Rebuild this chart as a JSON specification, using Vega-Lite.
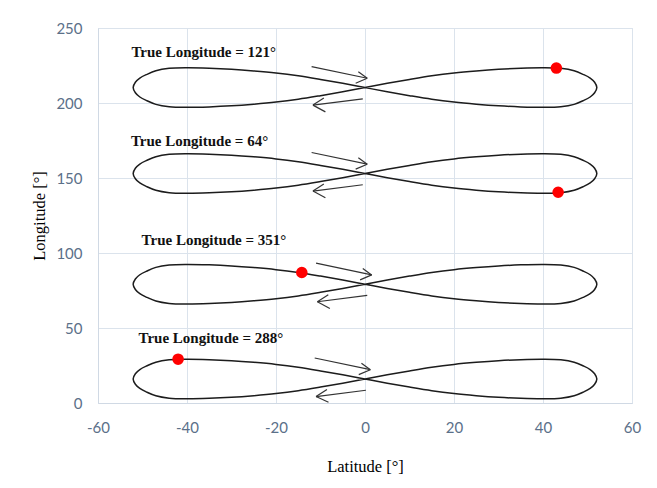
{
  "$schema": "https://vega.github.io/schema/vega-lite/v6.json",
  "width": 534,
  "height": 375,
  "autosize": {"type": "none"},
  "padding": {"left": 98, "top": 28, "right": 25, "bottom": 85},
  "background": "white",
  "config": {
    "view": {"stroke": "#d8e0ea", "strokeWidth": 1},
    "axis": {
      "grid": true,
      "gridColor": "#dbe3ec",
      "gridWidth": 1,
      "ticks": false,
      "tickSize": 0,
      "labelFlush": false,
      "labelOverlap": false,
      "domainColor": "#d0d9e4",
      "labelColor": "#5b7089",
      "labelFont": "Lato",
      "labelFontSize": 15,
      "titleFont": "Liberation Serif",
      "titleFontSize": 16.5,
      "titleFontWeight": "normal",
      "titleColor": "#000000"
    }
  },
  "datasets": {
    "track": [
      {"s":"A","o":0,"la":0,"lo":210.3},
      {"s":"A","o":1,"la":5,"lo":213.1},{"s":"A","o":2,"la":10,"lo":215.7},{"s":"A","o":3,"la":15,"lo":218.1},{"s":"A","o":4,"la":20,"lo":220.0},{"s":"A","o":5,"la":25,"lo":221.4},{"s":"A","o":6,"la":30,"lo":222.5},{"s":"A","o":7,"la":35,"lo":223.2},{"s":"A","o":8,"la":40,"lo":223.5},{"s":"A","o":9,"la":44,"lo":223.1},{"s":"A","o":10,"la":47,"lo":221.5},{"s":"A","o":11,"la":49,"lo":219.1},{"s":"A","o":12,"la":50.6,"lo":216.6},{"s":"A","o":13,"la":51.6,"lo":213.8},{"s":"A","o":14,"la":52.1,"lo":210.3},
      {"s":"A","o":15,"la":51.6,"lo":206.8},{"s":"A","o":16,"la":50.6,"lo":204.0},{"s":"A","o":17,"la":49,"lo":201.5},{"s":"A","o":18,"la":47,"lo":199.1},{"s":"A","o":19,"la":44,"lo":197.5},{"s":"A","o":20,"la":40,"lo":197.1},{"s":"A","o":21,"la":35,"lo":197.4},{"s":"A","o":22,"la":30,"lo":198.1},{"s":"A","o":23,"la":25,"lo":199.2},{"s":"A","o":24,"la":20,"lo":200.6},{"s":"A","o":25,"la":15,"lo":202.5},{"s":"A","o":26,"la":10,"lo":204.9},{"s":"A","o":27,"la":5,"lo":207.5},{"s":"A","o":28,"la":0,"lo":210.3},
      {"s":"A","o":29,"la":-5,"lo":213.1},{"s":"A","o":30,"la":-10,"lo":215.7},{"s":"A","o":31,"la":-15,"lo":218.1},{"s":"A","o":32,"la":-20,"lo":220.0},{"s":"A","o":33,"la":-25,"lo":221.4},{"s":"A","o":34,"la":-30,"lo":222.5},{"s":"A","o":35,"la":-35,"lo":223.2},{"s":"A","o":36,"la":-40,"lo":223.5},{"s":"A","o":37,"la":-44,"lo":223.1},{"s":"A","o":38,"la":-47,"lo":221.5},{"s":"A","o":39,"la":-49,"lo":219.1},{"s":"A","o":40,"la":-50.6,"lo":216.6},{"s":"A","o":41,"la":-51.6,"lo":213.8},{"s":"A","o":42,"la":-52.1,"lo":210.3},
      {"s":"A","o":43,"la":-51.6,"lo":206.8},{"s":"A","o":44,"la":-50.6,"lo":204.0},{"s":"A","o":45,"la":-49,"lo":201.5},{"s":"A","o":46,"la":-47,"lo":199.1},{"s":"A","o":47,"la":-44,"lo":197.5},{"s":"A","o":48,"la":-40,"lo":197.1},{"s":"A","o":49,"la":-35,"lo":197.4},{"s":"A","o":50,"la":-30,"lo":198.1},{"s":"A","o":51,"la":-25,"lo":199.2},{"s":"A","o":52,"la":-20,"lo":200.6},{"s":"A","o":53,"la":-15,"lo":202.5},{"s":"A","o":54,"la":-10,"lo":204.9},{"s":"A","o":55,"la":-5,"lo":207.5},{"s":"A","o":56,"la":0,"lo":210.3},

      {"s":"B","o":0,"la":0,"lo":153},
      {"s":"B","o":1,"la":5,"lo":155.8},{"s":"B","o":2,"la":10,"lo":158.4},{"s":"B","o":3,"la":15,"lo":160.8},{"s":"B","o":4,"la":20,"lo":162.7},{"s":"B","o":5,"la":25,"lo":164.1},{"s":"B","o":6,"la":30,"lo":165.2},{"s":"B","o":7,"la":35,"lo":165.9},{"s":"B","o":8,"la":40,"lo":166.2},{"s":"B","o":9,"la":44,"lo":165.8},{"s":"B","o":10,"la":47,"lo":164.2},{"s":"B","o":11,"la":49,"lo":161.8},{"s":"B","o":12,"la":50.6,"lo":159.3},{"s":"B","o":13,"la":51.6,"lo":156.5},{"s":"B","o":14,"la":52.1,"lo":153},
      {"s":"B","o":15,"la":51.6,"lo":149.5},{"s":"B","o":16,"la":50.6,"lo":146.7},{"s":"B","o":17,"la":49,"lo":144.2},{"s":"B","o":18,"la":47,"lo":141.8},{"s":"B","o":19,"la":44,"lo":140.2},{"s":"B","o":20,"la":40,"lo":139.8},{"s":"B","o":21,"la":35,"lo":140.1},{"s":"B","o":22,"la":30,"lo":140.8},{"s":"B","o":23,"la":25,"lo":141.9},{"s":"B","o":24,"la":20,"lo":143.3},{"s":"B","o":25,"la":15,"lo":145.2},{"s":"B","o":26,"la":10,"lo":147.6},{"s":"B","o":27,"la":5,"lo":150.2},{"s":"B","o":28,"la":0,"lo":153},
      {"s":"B","o":29,"la":-5,"lo":155.8},{"s":"B","o":30,"la":-10,"lo":158.4},{"s":"B","o":31,"la":-15,"lo":160.8},{"s":"B","o":32,"la":-20,"lo":162.7},{"s":"B","o":33,"la":-25,"lo":164.1},{"s":"B","o":34,"la":-30,"lo":165.2},{"s":"B","o":35,"la":-35,"lo":165.9},{"s":"B","o":36,"la":-40,"lo":166.2},{"s":"B","o":37,"la":-44,"lo":165.8},{"s":"B","o":38,"la":-47,"lo":164.2},{"s":"B","o":39,"la":-49,"lo":161.8},{"s":"B","o":40,"la":-50.6,"lo":159.3},{"s":"B","o":41,"la":-51.6,"lo":156.5},{"s":"B","o":42,"la":-52.1,"lo":153},
      {"s":"B","o":43,"la":-51.6,"lo":149.5},{"s":"B","o":44,"la":-50.6,"lo":146.7},{"s":"B","o":45,"la":-49,"lo":144.2},{"s":"B","o":46,"la":-47,"lo":141.8},{"s":"B","o":47,"la":-44,"lo":140.2},{"s":"B","o":48,"la":-40,"lo":139.8},{"s":"B","o":49,"la":-35,"lo":140.1},{"s":"B","o":50,"la":-30,"lo":140.8},{"s":"B","o":51,"la":-25,"lo":141.9},{"s":"B","o":52,"la":-20,"lo":143.3},{"s":"B","o":53,"la":-15,"lo":145.2},{"s":"B","o":54,"la":-10,"lo":147.6},{"s":"B","o":55,"la":-5,"lo":150.2},{"s":"B","o":56,"la":0,"lo":153},

      {"s":"C","o":0,"la":0,"lo":79.2},
      {"s":"C","o":1,"la":5,"lo":82.0},{"s":"C","o":2,"la":10,"lo":84.6},{"s":"C","o":3,"la":15,"lo":87.0},{"s":"C","o":4,"la":20,"lo":88.9},{"s":"C","o":5,"la":25,"lo":90.3},{"s":"C","o":6,"la":30,"lo":91.4},{"s":"C","o":7,"la":35,"lo":92.1},{"s":"C","o":8,"la":40,"lo":92.4},{"s":"C","o":9,"la":44,"lo":92.0},{"s":"C","o":10,"la":47,"lo":90.4},{"s":"C","o":11,"la":49,"lo":88.0},{"s":"C","o":12,"la":50.6,"lo":85.5},{"s":"C","o":13,"la":51.6,"lo":82.7},{"s":"C","o":14,"la":52.1,"lo":79.2},
      {"s":"C","o":15,"la":51.6,"lo":75.7},{"s":"C","o":16,"la":50.6,"lo":72.9},{"s":"C","o":17,"la":49,"lo":70.4},{"s":"C","o":18,"la":47,"lo":68.0},{"s":"C","o":19,"la":44,"lo":66.4},{"s":"C","o":20,"la":40,"lo":66.0},{"s":"C","o":21,"la":35,"lo":66.3},{"s":"C","o":22,"la":30,"lo":67.0},{"s":"C","o":23,"la":25,"lo":68.1},{"s":"C","o":24,"la":20,"lo":69.5},{"s":"C","o":25,"la":15,"lo":71.4},{"s":"C","o":26,"la":10,"lo":73.8},{"s":"C","o":27,"la":5,"lo":76.4},{"s":"C","o":28,"la":0,"lo":79.2},
      {"s":"C","o":29,"la":-5,"lo":82.0},{"s":"C","o":30,"la":-10,"lo":84.6},{"s":"C","o":31,"la":-15,"lo":87.0},{"s":"C","o":32,"la":-20,"lo":88.9},{"s":"C","o":33,"la":-25,"lo":90.3},{"s":"C","o":34,"la":-30,"lo":91.4},{"s":"C","o":35,"la":-35,"lo":92.1},{"s":"C","o":36,"la":-40,"lo":92.4},{"s":"C","o":37,"la":-44,"lo":92.0},{"s":"C","o":38,"la":-47,"lo":90.4},{"s":"C","o":39,"la":-49,"lo":88.0},{"s":"C","o":40,"la":-50.6,"lo":85.5},{"s":"C","o":41,"la":-51.6,"lo":82.7},{"s":"C","o":42,"la":-52.1,"lo":79.2},
      {"s":"C","o":43,"la":-51.6,"lo":75.7},{"s":"C","o":44,"la":-50.6,"lo":72.9},{"s":"C","o":45,"la":-49,"lo":70.4},{"s":"C","o":46,"la":-47,"lo":68.0},{"s":"C","o":47,"la":-44,"lo":66.4},{"s":"C","o":48,"la":-40,"lo":66.0},{"s":"C","o":49,"la":-35,"lo":66.3},{"s":"C","o":50,"la":-30,"lo":67.0},{"s":"C","o":51,"la":-25,"lo":68.1},{"s":"C","o":52,"la":-20,"lo":69.5},{"s":"C","o":53,"la":-15,"lo":71.4},{"s":"C","o":54,"la":-10,"lo":73.8},{"s":"C","o":55,"la":-5,"lo":76.4},{"s":"C","o":56,"la":0,"lo":79.2},

      {"s":"D","o":0,"la":0,"lo":16},
      {"s":"D","o":1,"la":5,"lo":18.8},{"s":"D","o":2,"la":10,"lo":21.4},{"s":"D","o":3,"la":15,"lo":23.8},{"s":"D","o":4,"la":20,"lo":25.7},{"s":"D","o":5,"la":25,"lo":27.1},{"s":"D","o":6,"la":30,"lo":28.2},{"s":"D","o":7,"la":35,"lo":28.9},{"s":"D","o":8,"la":40,"lo":29.2},{"s":"D","o":9,"la":44,"lo":28.8},{"s":"D","o":10,"la":47,"lo":27.2},{"s":"D","o":11,"la":49,"lo":24.8},{"s":"D","o":12,"la":50.6,"lo":22.3},{"s":"D","o":13,"la":51.6,"lo":19.5},{"s":"D","o":14,"la":52.1,"lo":16},
      {"s":"D","o":15,"la":51.6,"lo":12.5},{"s":"D","o":16,"la":50.6,"lo":9.7},{"s":"D","o":17,"la":49,"lo":7.2},{"s":"D","o":18,"la":47,"lo":4.8},{"s":"D","o":19,"la":44,"lo":3.2},{"s":"D","o":20,"la":40,"lo":2.8},{"s":"D","o":21,"la":35,"lo":3.1},{"s":"D","o":22,"la":30,"lo":3.8},{"s":"D","o":23,"la":25,"lo":4.9},{"s":"D","o":24,"la":20,"lo":6.3},{"s":"D","o":25,"la":15,"lo":8.2},{"s":"D","o":26,"la":10,"lo":10.6},{"s":"D","o":27,"la":5,"lo":13.2},{"s":"D","o":28,"la":0,"lo":16},
      {"s":"D","o":29,"la":-5,"lo":18.8},{"s":"D","o":30,"la":-10,"lo":21.4},{"s":"D","o":31,"la":-15,"lo":23.8},{"s":"D","o":32,"la":-20,"lo":25.7},{"s":"D","o":33,"la":-25,"lo":27.1},{"s":"D","o":34,"la":-30,"lo":28.2},{"s":"D","o":35,"la":-35,"lo":28.9},{"s":"D","o":36,"la":-40,"lo":29.2},{"s":"D","o":37,"la":-44,"lo":28.8},{"s":"D","o":38,"la":-47,"lo":27.2},{"s":"D","o":39,"la":-49,"lo":24.8},{"s":"D","o":40,"la":-50.6,"lo":22.3},{"s":"D","o":41,"la":-51.6,"lo":19.5},{"s":"D","o":42,"la":-52.1,"lo":16},
      {"s":"D","o":43,"la":-51.6,"lo":12.5},{"s":"D","o":44,"la":-50.6,"lo":9.7},{"s":"D","o":45,"la":-49,"lo":7.2},{"s":"D","o":46,"la":-47,"lo":4.8},{"s":"D","o":47,"la":-44,"lo":3.2},{"s":"D","o":48,"la":-40,"lo":2.8},{"s":"D","o":49,"la":-35,"lo":3.1},{"s":"D","o":50,"la":-30,"lo":3.8},{"s":"D","o":51,"la":-25,"lo":4.9},{"s":"D","o":52,"la":-20,"lo":6.3},{"s":"D","o":53,"la":-15,"lo":8.2},{"s":"D","o":54,"la":-10,"lo":10.6},{"s":"D","o":55,"la":-5,"lo":13.2},{"s":"D","o":56,"la":0,"lo":16}
    ],
    "arrows": [
      {"la":-12.0,"lo":224.3,"la2":0.5,"lo2":216.5},{"la":-1.5,"lo":220.8,"la2":0.5,"lo2":216.5},{"la":-2.1,"lo":213.2,"la2":0.5,"lo2":216.5},
      {"la":-0.5,"lo":202.8,"la2":-11.7,"lo2":198.6},{"la":-9.25,"lo":203.3,"la2":-11.7,"lo2":198.6},{"la":-8.9,"lo":194.1,"la2":-11.7,"lo2":198.6},
      {"la":-12.0,"lo":167.0,"la2":0.5,"lo2":159.2},{"la":-1.5,"lo":163.5,"la2":0.5,"lo2":159.2},{"la":-2.1,"lo":155.9,"la2":0.5,"lo2":159.2},
      {"la":-0.5,"lo":145.5,"la2":-11.7,"lo2":141.3},{"la":-9.25,"lo":146.0,"la2":-11.7,"lo2":141.3},{"la":-8.9,"lo":136.8,"la2":-11.7,"lo2":141.3},
      {"la":-11.0,"lo":93.2,"la2":1.5,"lo2":85.4},{"la":-0.5,"lo":89.7,"la2":1.5,"lo2":85.4},{"la":-1.1,"lo":82.1,"la2":1.5,"lo2":85.4},
      {"la":0.5,"lo":71.7,"la2":-10.7,"lo2":67.5},{"la":-8.25,"lo":72.2,"la2":-10.7,"lo2":67.5},{"la":-7.9,"lo":63.0,"la2":-10.7,"lo2":67.5},
      {"la":-11.3,"lo":30.0,"la2":1.2,"lo2":22.2},{"la":-0.8,"lo":26.5,"la2":1.2,"lo2":22.2},{"la":-1.4,"lo":18.9,"la2":1.2,"lo2":22.2},
      {"la":0.2,"lo":8.5,"la2":-11.0,"lo2":4.3},{"la":-8.55,"lo":9.0,"la2":-11.0,"lo2":4.3},{"la":-8.2,"lo":0.5,"la2":-11.0,"lo2":4.3}
    ],
    "dots": [
      {"la":43,"lo":223.3},{"la":43.4,"lo":140.5},{"la":-14.2,"lo":87.0},{"la":-42,"lo":29.2}
    ],
    "labels": [
      {"t":"True Longitude = 121°","la":-52.5,"lo":231},
      {"t":"True Longitude = 64°","la":-52.6,"lo":171.5},
      {"t":"True Longitude = 351°","la":-50.2,"lo":105.3},
      {"t":"True Longitude = 288°","la":-50.9,"lo":40.2}
    ]
  },
  "layer": [
    {
      "data": {"name": "track"},
      "mark": {"type": "line", "interpolate": "catmull-rom", "color": "#1c1c1c", "strokeWidth": 1.5, "clip": false},
      "encoding": {
        "x": {"field": "la", "type": "quantitative", "scale": {"domain": [-60, 60], "nice": false},
              "axis": {"title": "Latitude [°]", "values": [-60, -40, -20, 0, 20, 40, 60], "labelExpr": "'' + datum.value", "labelPadding": 17, "titlePadding": 23}},
        "y": {"field": "lo", "type": "quantitative", "scale": {"domain": [0, 250], "nice": false},
              "axis": {"title": "Longitude [°]", "values": [0, 50, 100, 150, 200, 250], "labelExpr": "'' + datum.value", "labelPadding": 16, "titlePadding": 8}},
        "detail": {"field": "s"},
        "order": {"field": "o", "type": "quantitative"}
      }
    },
    {
      "data": {"name": "arrows"},
      "mark": {"type": "rule", "color": "#333333", "strokeWidth": 1.2, "clip": false},
      "encoding": {
        "x": {"field": "la", "type": "quantitative"},
        "y": {"field": "lo", "type": "quantitative"},
        "x2": {"field": "la2"},
        "y2": {"field": "lo2"}
      }
    },
    {
      "data": {"name": "dots"},
      "mark": {"type": "point", "filled": true, "color": "#ff0000", "size": 135, "opacity": 1},
      "encoding": {
        "x": {"field": "la", "type": "quantitative"},
        "y": {"field": "lo", "type": "quantitative"}
      }
    },
    {
      "data": {"name": "labels"},
      "mark": {"type": "text", "font": "Liberation Serif", "fontWeight": "bold", "fontSize": 15, "align": "left", "baseline": "alphabetic", "color": "#111111"},
      "encoding": {
        "x": {"field": "la", "type": "quantitative"},
        "y": {"field": "lo", "type": "quantitative"},
        "text": {"field": "t"}
      }
    }
  ]
}
